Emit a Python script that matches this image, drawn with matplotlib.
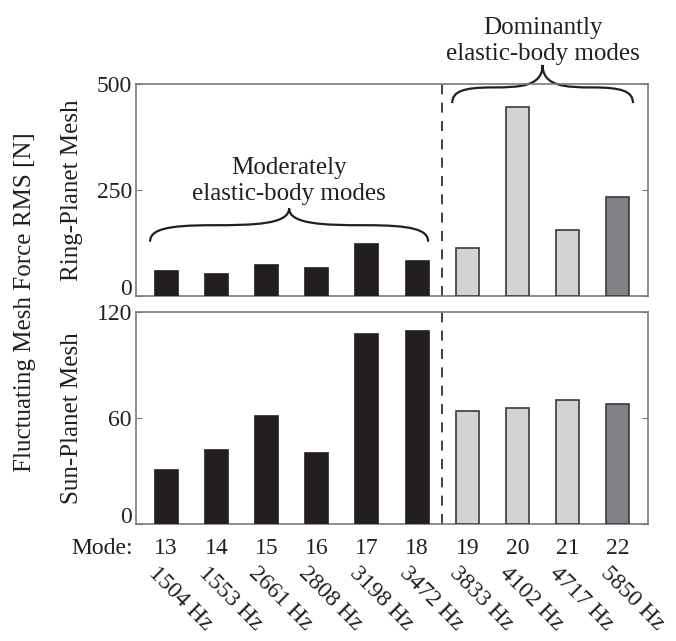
import numpy as np
import matplotlib
matplotlib.use('Agg')
import matplotlib.pyplot as plt
from matplotlib.path import Path
import matplotlib.patches as patches
from matplotlib.transforms import offset_copy

BLACK1 = '#231F20'
GRAY_LIGHT = '#D1D3D4'
GRAY_DARK = '#808285'
EDGE = '#3A3A3A'
FRAME = '#7A7A7A'

plt.rcParams['font.family'] = 'Liberation Serif'
plt.rcParams['text.color'] = BLACK1
plt.rcParams['xtick.color'] = BLACK1
plt.rcParams['ytick.color'] = BLACK1

modes = [13, 14, 15, 16, 17, 18, 19, 20, 21, 22]
freqs = ['1504 Hz', '1553 Hz', '2661 Hz', '2808 Hz', '3198 Hz',
         '3472 Hz', '3833 Hz', '4102 Hz', '4717 Hz', '5850 Hz']
ring_rms = [60, 51, 73, 66, 122, 83, 114, 445, 155, 234]
sun_rms = [30.7, 42, 61.4, 40, 107.7, 109.2, 63.9, 65.8, 70, 67.9]
bar_colors = [BLACK1] * 6 + [GRAY_LIGHT] * 3 + [GRAY_DARK]
edge_colors = [BLACK1] * 6 + [EDGE] * 4

FS = 17     # tick numbers
FL = 18     # labels and notes


def brace(ax, x0, x1, y0, yf, yt, lw=1.6):
    # curly brace opening downward, tip pointing up at the middle
    xm = (x0 + x1) / 2
    h = xm - x0
    verts, codes = [], []
    for s, xe in ((1, x0), (-1, x1)):
        pts = [(xe, y0),
               (xe, y0 + 0.75 * (yf - y0)), (xe + s * 0.12 * h, yf), (xe + s * 0.45 * h, yf),
               (xm - s * 0.25 * h, yf), (xm, yf + 0.05 * (yt - yf)), (xm, yt)]
        verts += pts
        codes += [Path.MOVETO] + [Path.CURVE4] * 6
    p = patches.PathPatch(Path(verts, codes), fill=False, lw=lw, color=BLACK1, clip_on=False)
    ax.add_patch(p)


fig = plt.figure(figsize=(6.76, 6.41), dpi=100)
ax1 = fig.add_axes([0.2012, 0.5382, 0.7574, 0.3307])
ax2 = fig.add_axes([0.2012, 0.1825, 0.7574, 0.3307])

for ax, vals, ymax in ((ax1, ring_rms, 500), (ax2, sun_rms, 120)):
    ax.bar(modes, vals, width=0.46, color=bar_colors, edgecolor=edge_colors, linewidth=1.2, zorder=3)
    ax.axvline(18.5, color=BLACK1, lw=1.2, ls=(0, (6, 5)), zorder=2)
    ax.set_xlim(12.4, 22.6)
    ax.set_ylim(0, ymax)
    ax.set_yticks([0, ymax / 2, ymax])
    ax.set_yticklabels(['0', f'{ymax // 2:g}', f'{ymax:g}'])
    ax.tick_params(axis='y', which='both', direction='in', length=4, width=0.8, color=FRAME,
                   left=True, right=True, labelsize=FS, pad=3)
    # zero label sits on top of the baseline
    zero = ax.get_yticklabels()[0]
    zero.set_va('bottom')
    zero.set_transform(offset_copy(zero.get_transform(), fig=fig, y=-3, units='points'))
    for sp in ax.spines.values():
        sp.set_color(FRAME)
        sp.set_linewidth(1.2)

ax1.set_xticks([])
ax2.set_xticks(modes)
ax2.set_xticklabels([str(m) for m in modes])
ax2.tick_params(axis='x', length=0, labelsize=FS, pad=10)
ax2.annotate('Mode:', xy=(0, 0), xycoords='axes fraction', xytext=(-2, -10),
             textcoords='offset points', ha='right', va='top', fontsize=FS)

for m, f in zip(modes, freqs):
    ax2.annotate(f, xy=(m, 0), xycoords=('data', 'axes fraction'), xytext=(-5, -28),
                 textcoords='offset points', rotation=-45, rotation_mode='anchor',
                 ha='left', va='top', fontsize=FS)

# mode group annotations
brace(ax1, 12.68, 18.22, 128, 167, 207)
ax1.text(15.45, 226, 'Moderately\nelastic-body modes', ha='center', va='baseline',
         fontsize=FL, linespacing=1.25)
brace(ax1, 18.7, 22.3, 455, 492, 545)
ax1.text(20.5, 556, 'Dominantly\nelastic-body modes', ha='center', va='baseline',
         fontsize=FL, linespacing=1.25, clip_on=False)

fig.text(25 / 676, 1 - 302 / 641, 'Fluctuating Mesh Force RMS [N]', rotation=90,
         ha='center', va='center', fontsize=FL)
fig.text(72 / 676, 1 - 190 / 641, 'Ring-Planet Mesh', rotation=90,
         ha='center', va='center', fontsize=FL)
fig.text(72 / 676, 1 - 418 / 641, 'Sun-Planet Mesh', rotation=90,
         ha='center', va='center', fontsize=FL)

fig.savefig('out.png', dpi=100)
